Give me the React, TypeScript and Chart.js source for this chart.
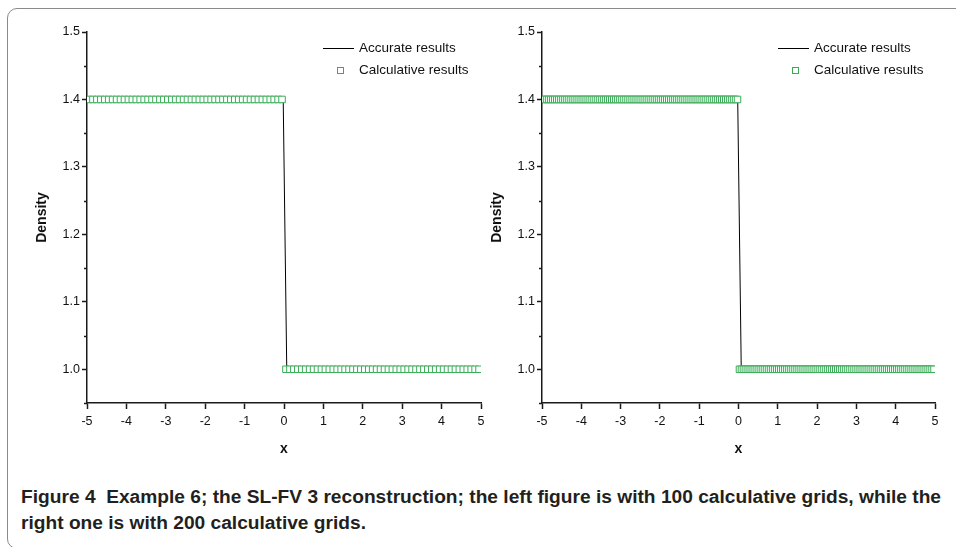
import React, { useEffect, useLayoutEffect, useRef } from "react";
import { Chart, registerables } from "chart.js";

Chart.register(...registerables);

// ---------------- data ----------------
const xDomain = [-5, 5];
const xTicks = [-5, -4, -3, -2, -1, 0, 1, 2, 3, 4, 5];
const yMajorTicks = [1.0, 1.1, 1.2, 1.3, 1.4, 1.5];
const yMinorTicks = [0.95, 1.05, 1.15, 1.25, 1.35, 1.45];
const yRange = [0.95, 1.5];

// exact (accurate) solution: step from 1.4 down to 1.0 near x = 0
const accurateX = [-5, -0.02, 0.07, 5];
const accurateY = [1.4, 1.4, 1.0, 1.0];

// left panel: 100 calculative grids (cell-centre values)
const leftGridCount = 100;
const leftDensity = [
  1.4, 1.4, 1.4, 1.4, 1.4, 1.4, 1.4, 1.4, 1.4, 1.4,
  1.4, 1.4, 1.4, 1.4, 1.4, 1.4, 1.4, 1.4, 1.4, 1.4,
  1.4, 1.4, 1.4, 1.4, 1.4, 1.4, 1.4, 1.4, 1.4, 1.4,
  1.4, 1.4, 1.4, 1.4, 1.4, 1.4, 1.4, 1.4, 1.4, 1.4,
  1.4, 1.4, 1.4, 1.4, 1.4, 1.4, 1.4, 1.4, 1.4, 1.4,
  1.0, 1.0, 1.0, 1.0, 1.0, 1.0, 1.0, 1.0, 1.0, 1.0,
  1.0, 1.0, 1.0, 1.0, 1.0, 1.0, 1.0, 1.0, 1.0, 1.0,
  1.0, 1.0, 1.0, 1.0, 1.0, 1.0, 1.0, 1.0, 1.0, 1.0,
  1.0, 1.0, 1.0, 1.0, 1.0, 1.0, 1.0, 1.0, 1.0, 1.0,
  1.0, 1.0, 1.0, 1.0, 1.0, 1.0, 1.0, 1.0, 1.0, 1.0,
];

// right panel: 200 calculative grids (cell-centre values)
const rightGridCount = 200;
const rightDensity = [
  1.4, 1.4, 1.4, 1.4, 1.4, 1.4, 1.4, 1.4, 1.4, 1.4,
  1.4, 1.4, 1.4, 1.4, 1.4, 1.4, 1.4, 1.4, 1.4, 1.4,
  1.4, 1.4, 1.4, 1.4, 1.4, 1.4, 1.4, 1.4, 1.4, 1.4,
  1.4, 1.4, 1.4, 1.4, 1.4, 1.4, 1.4, 1.4, 1.4, 1.4,
  1.4, 1.4, 1.4, 1.4, 1.4, 1.4, 1.4, 1.4, 1.4, 1.4,
  1.4, 1.4, 1.4, 1.4, 1.4, 1.4, 1.4, 1.4, 1.4, 1.4,
  1.4, 1.4, 1.4, 1.4, 1.4, 1.4, 1.4, 1.4, 1.4, 1.4,
  1.4, 1.4, 1.4, 1.4, 1.4, 1.4, 1.4, 1.4, 1.4, 1.4,
  1.4, 1.4, 1.4, 1.4, 1.4, 1.4, 1.4, 1.4, 1.4, 1.4,
  1.4, 1.4, 1.4, 1.4, 1.4, 1.4, 1.4, 1.4, 1.4, 1.4,
  1.0, 1.0, 1.0, 1.0, 1.0, 1.0, 1.0, 1.0, 1.0, 1.0,
  1.0, 1.0, 1.0, 1.0, 1.0, 1.0, 1.0, 1.0, 1.0, 1.0,
  1.0, 1.0, 1.0, 1.0, 1.0, 1.0, 1.0, 1.0, 1.0, 1.0,
  1.0, 1.0, 1.0, 1.0, 1.0, 1.0, 1.0, 1.0, 1.0, 1.0,
  1.0, 1.0, 1.0, 1.0, 1.0, 1.0, 1.0, 1.0, 1.0, 1.0,
  1.0, 1.0, 1.0, 1.0, 1.0, 1.0, 1.0, 1.0, 1.0, 1.0,
  1.0, 1.0, 1.0, 1.0, 1.0, 1.0, 1.0, 1.0, 1.0, 1.0,
  1.0, 1.0, 1.0, 1.0, 1.0, 1.0, 1.0, 1.0, 1.0, 1.0,
  1.0, 1.0, 1.0, 1.0, 1.0, 1.0, 1.0, 1.0, 1.0, 1.0,
  1.0, 1.0, 1.0, 1.0, 1.0, 1.0, 1.0, 1.0, 1.0, 1.0,
];

const seriesLabels = ["Accurate results", "Calculative results"];
const xTitle = "x";
const yTitle = "Density";
const captionLine1 =
  "Figure 4  Example 6; the SL-FV 3 reconstruction; the left figure is with 100 calculative grids, while the";
const captionLine2 = "right one is with 200 calculative grids.";

// ---------------- styles ----------------
const GREEN = "#3aac58";
const AXIS = "#1a1a1a";
const FONT = "'Liberation Sans', Arial, sans-serif";
const CAPTION_WIDTH = 920;

function cellCentres(count: number) {
  const dx = (xDomain[1] - xDomain[0]) / count;
  return Array.from({ length: count }, (_, i) => xDomain[0] + (i + 0.5) * dx);
}

const minorTickPlugin = {
  id: "minorTicks",
  afterDraw(chart: any) {
    const y = chart.scales.y;
    const ctx = chart.ctx;
    const left = chart.chartArea.left;
    ctx.save();
    ctx.strokeStyle = AXIS;
    ctx.lineWidth = 1.5;
    yMinorTicks.forEach((v) => {
      const py = Math.round(y.getPixelForValue(v)) + 0.5;
      ctx.beginPath();
      ctx.moveTo(left - 3, py);
      ctx.lineTo(left, py);
      ctx.stroke();
    });
    ctx.restore();
  },
};

const legendPlugin = {
  id: "insideLegend",
  afterDraw(chart: any) {
    const ctx = chart.ctx;
    const left = Math.round(chart.chartArea.left);
    const top = Math.round(chart.chartArea.top);
    const ds = chart.data.datasets;
    ctx.save();
    ctx.font = `13.5px ${FONT}`;
    ctx.textBaseline = "middle";
    // row 1: line sample
    const y1 = top + 16;
    ctx.strokeStyle = "#000";
    ctx.lineWidth = 1;
    ctx.beginPath();
    ctx.moveTo(left + 236, y1 + 0.5);
    ctx.lineTo(left + 267, y1 + 0.5);
    ctx.stroke();
    ctx.fillStyle = "#111";
    ctx.fillText(ds[0].label, left + 272, y1);
    // row 2: marker sample
    const y2 = top + 38;
    ctx.fillStyle = "#fff";
    ctx.fillRect(left + 250, y2 - 3, 6, 6);
    ctx.strokeStyle = GREEN;
    ctx.lineWidth = 1;
    ctx.strokeRect(left + 250.5, y2 - 2.5, 6, 6);
    ctx.fillStyle = "#111";
    ctx.fillText(ds[1].label, left + 272, y2);
    ctx.restore();
  },
};

function buildChart(canvas: HTMLCanvasElement, gridCount: number, density: number[], padRight: number) {
  const xs = cellCentres(gridCount);
  const points = density.map((v, i) => ({ x: xs[i], y: v }));
  const exact = accurateX.map((x, i) => ({ x, y: accurateY[i] }));
  return new Chart(canvas, {
    type: "scatter",
    data: {
      datasets: [
        {
          label: seriesLabels[0],
          data: exact,
          showLine: true,
          borderColor: "#000",
          borderWidth: 1,
          pointRadius: 0,
          order: 2,
        },
        {
          label: seriesLabels[1],
          data: points,
          showLine: false,
          pointStyle: "rect",
          pointRadius: 4.6,
          pointBorderWidth: 1,
          borderColor: GREEN,
          backgroundColor: "#fff",
          pointBackgroundColor: "#fff",
          pointBorderColor: GREEN,
          order: 1,
        },
      ],
    },
    options: {
      responsive: false,
      animation: false,
      devicePixelRatio: 1,
      layout: { padding: { top: 17, right: padRight, left: 0, bottom: 0 } },
      plugins: { legend: { display: false }, tooltip: { enabled: false } },
      scales: {
        x: {
          type: "linear",
          min: xDomain[0],
          max: xDomain[1],
          afterBuildTicks: (s: any) => {
            s.ticks = xTicks.map((v) => ({ value: v }));
          },
          afterFit: (s: any) => {
            s.height = 67;
          },
          ticks: {
            color: "#111",
            font: { family: FONT, size: 12.5 },
            padding: 5,
            maxRotation: 0,
            autoSkip: false,
            callback: (v: any) => String(v),
          },
          grid: {
            display: true,
            drawOnChartArea: false,
            drawTicks: true,
            tickLength: 6,
            tickWidth: 1.5,
            tickColor: AXIS,
          },
          border: { display: true, color: AXIS, width: 1.5 },
          title: {
            display: true,
            text: xTitle,
            color: "#111",
            font: { family: FONT, size: 14, weight: "bold" },
            padding: { top: 0, bottom: 12 },
          },
        },
        y: {
          type: "linear",
          min: yRange[0],
          max: yRange[1],
          afterBuildTicks: (s: any) => {
            s.ticks = yMajorTicks.map((v) => ({ value: v }));
          },
          afterFit: (s: any) => {
            s.width = 67;
          },
          ticks: {
            color: "#111",
            font: { family: FONT, size: 12.5 },
            padding: 2,
            autoSkip: false,
            callback: (v: any) => Number(v).toFixed(1),
          },
          grid: {
            display: true,
            drawOnChartArea: false,
            drawTicks: true,
            tickLength: 5,
            tickWidth: 1.5,
            tickColor: AXIS,
          },
          border: { display: true, color: AXIS, width: 1.5 },
          title: {
            display: true,
            text: yTitle,
            color: "#111",
            font: { family: FONT, size: 14, weight: "bold" },
            padding: { top: 14, bottom: 0 },
          },
        },
      },
    },
    plugins: [minorTickPlugin, legendPlugin],
  } as any);
}

export default function App() {
  const leftRef = useRef<HTMLCanvasElement>(null);
  const rightRef = useRef<HTMLCanvasElement>(null);
  const capRef = useRef<HTMLDivElement>(null);
  const line1Ref = useRef<HTMLSpanElement>(null);

  useLayoutEffect(() => {
    const cap = capRef.current;
    const l1 = line1Ref.current;
    if (cap && l1) {
      const w = l1.getBoundingClientRect().width;
      if (w > 0) cap.style.transform = `scaleX(${CAPTION_WIDTH / w})`;
    }
  }, []);

  useEffect(() => {
    document.body.style.margin = "0";
    const c1 = buildChart(leftRef.current!, leftGridCount, leftDensity, 9);
    const c2 = buildChart(rightRef.current!, rightGridCount, rightDensity, 20);
    return () => {
      c1.destroy();
      c2.destroy();
    };
  }, []);

  return (
    <div style={{ position: "relative", width: 956, height: 547, overflow: "hidden", background: "#fff" }}>
      <div
        style={{
          position: "absolute",
          left: 7,
          top: 8,
          width: 1100,
          height: 541,
          border: "1px solid #8a8a8a",
          borderRadius: 10,
          boxSizing: "border-box",
        }}
      />
      <canvas
        ref={leftRef}
        width={470}
        height={455}
        style={{ position: "absolute", left: 20, top: 15 }}
      />
      <canvas
        ref={rightRef}
        width={480}
        height={455}
        style={{ position: "absolute", left: 475, top: 15 }}
      />
      <div
        ref={capRef}
        style={{
          position: "absolute",
          left: 21,
          top: 484,
          fontFamily: FONT,
          fontWeight: "bold",
          fontSize: 18,
          lineHeight: "26px",
          color: "#231f20",
          whiteSpace: "pre",
          transformOrigin: "0 0",
        }}
      >
        <div>
          <span ref={line1Ref}>{captionLine1}</span>
        </div>
        <div>{captionLine2}</div>
      </div>
    </div>
  );
}
